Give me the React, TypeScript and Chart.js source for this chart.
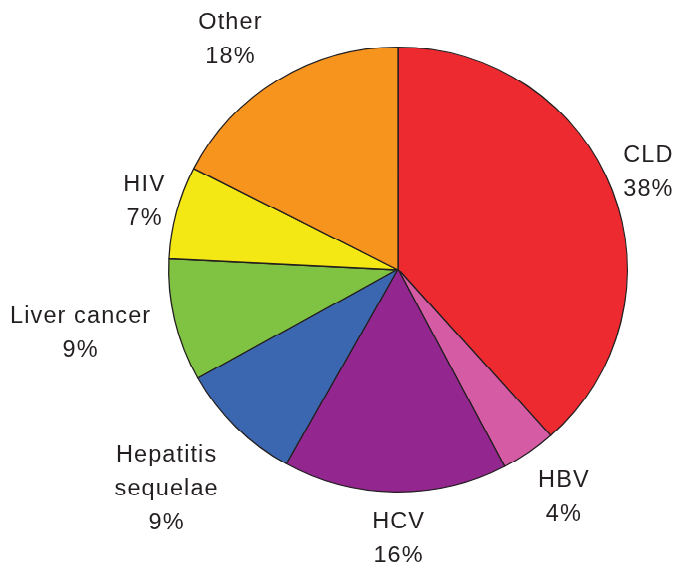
import { useEffect, useRef } from "react";
import { Chart, registerables } from "chart.js";

Chart.register(...registerables);

const categories = ["CLD", "HBV", "HCV", "Hepatitis sequelae", "Liver cancer", "HIV", "Other"];
const labelLines = [["CLD"], ["HBV"], ["HCV"], ["Hepatitis", "sequelae"], ["Liver cancer"], ["HIV"], ["Other"]];
const shares = [38.4, 3.9, 15.8, 8.8, 8.9, 6.7, 17.5];
const percentLabels = ["38%", "4%", "16%", "9%", "9%", "7%", "18%"];
const sliceColors = ["#ED2A30", "#D65BA5", "#93268F", "#3B67B1", "#80C342", "#F3E813", "#F7941E"];
// label block centre offsets from the slice's mid-angle rim point
const labelOffsets = [
  [35.6, -20],
  [34.7, 45.1],
  [3, 47.1],
  [-69.7, 62.2],
  [-94.5, 12.1],
  [-32.3, -13],
  [-48.2, -43.3],
];

const W = 685;
const H = 592;
const SQUISH = 574 / 592;

const labelPlugin = {
  id: "outerLabels",
  afterDraw(chart: any) {
    const ctx = chart.ctx;
    const meta = chart.getDatasetMeta(0);
    const fontSize = 23.5;
    const capH = fontSize * 0.716;
    const lineH = 35;
    ctx.save();
    ctx.font = `${fontSize}px "Liberation Sans", Arial, Helvetica, sans-serif`;
    try {
      (ctx as any).letterSpacing = "1.1px";
    } catch (e) {}
    ctx.fillStyle = "#231F20";
    ctx.textAlign = "center";
    ctx.textBaseline = "alphabetic";
    meta.data.forEach((arc: any, i: number) => {
      const p = arc.getProps(["x", "y", "startAngle", "endAngle", "outerRadius"], true);
      const mid = (p.startAngle + p.endAngle) / 2;
      const rx = p.x + p.outerRadius * Math.cos(mid);
      const ry = p.y + p.outerRadius * Math.sin(mid);
      const cx = rx + labelOffsets[i][0];
      const cy = ry + labelOffsets[i][1];
      const lines = [...labelLines[i], percentLabels[i]];
      const total = capH + (lines.length - 1) * lineH;
      const top = cy - total / 2;
      lines.forEach((t, j) => {
        ctx.fillText(t, cx + 0.5, top + capH + j * lineH);
      });
    });
    ctx.restore();
  },
};

export default function App() {
  const ref = useRef<HTMLCanvasElement | null>(null);

  useEffect(() => {
    document.body.style.margin = "0";
    document.body.style.overflow = "hidden";
    if (!ref.current) return;
    const chart = new Chart(ref.current, {
      type: "pie",
      data: {
        labels: categories,
        datasets: [
          {
            data: shares,
            backgroundColor: sliceColors,
            borderColor: "#231F20",
            borderWidth: 1.3,
            hoverBorderWidth: 1.3,
          },
        ],
      },
      options: {
        animation: false,
        responsive: true,
        maintainAspectRatio: false,
        layout: { padding: { left: 168, right: 57, top: 48, bottom: 84 } },
        plugins: {
          legend: { display: false },
          tooltip: { enabled: false },
        },
        events: [],
      },
      plugins: [labelPlugin],
    });
    return () => chart.destroy();
  }, []);

  return (
    <div
      style={{
        position: "absolute",
        left: 0,
        top: 0,
        width: W,
        height: H,
        transform: `scaleY(${SQUISH})`,
        transformOrigin: "0 0",
        background: "#fff",
      }}
    >
      <canvas ref={ref} />
    </div>
  );
}
